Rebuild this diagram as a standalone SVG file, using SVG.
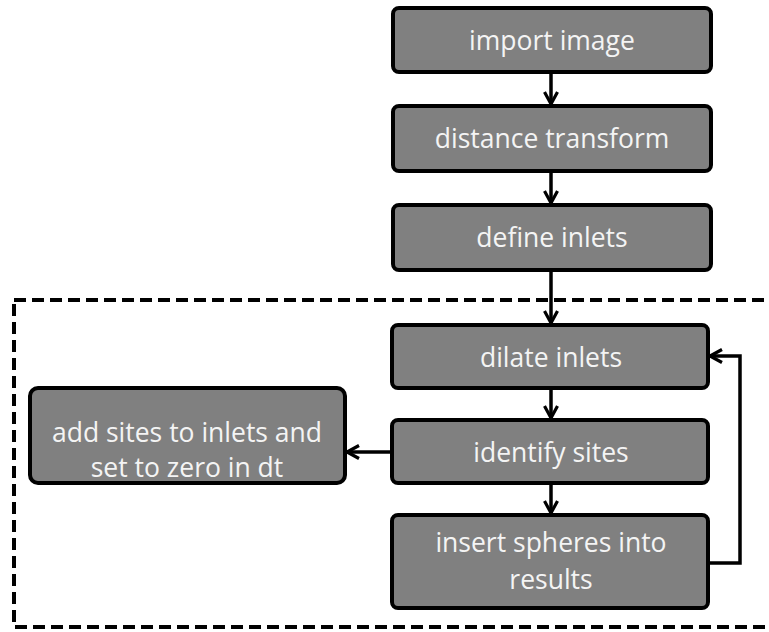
<svg xmlns="http://www.w3.org/2000/svg" width="769" height="632" viewBox="0 0 769 632">
<style>
.box{fill:#808080;stroke:#000;stroke-width:4}
.t{font-family:"Open Sans","Liberation Sans",sans-serif;font-size:26.5px;fill:#f4f4f4;text-anchor:middle}
.c{fill:none;stroke:#000;stroke-width:3.5}
</style>
<defs>
<marker id="ah" viewBox="0 0 16 16" refX="14" refY="8" markerWidth="16" markerHeight="16" markerUnits="userSpaceOnUse" orient="auto">
<path d="M2,1.5 L14,8 L2,14.5" fill="none" stroke="#000" stroke-width="3.2"/>
</marker>
</defs>
<rect x="14" y="300" width="770" height="327" fill="none" stroke="#000" stroke-width="4" stroke-dasharray="12,6"/>
<g id="n1"><rect class="box" x="393" y="8" width="318" height="64" rx="6"/><text class="t" x="552" y="50">import image</text></g>
<g id="n2"><rect class="box" x="393" y="106" width="318" height="65" rx="6"/><text class="t" x="552" y="148">distance transform</text></g>
<g id="n3"><rect class="box" x="393" y="205" width="318" height="65" rx="6"/><text class="t" x="552" y="247">define inlets</text></g>
<g id="n4"><rect class="box" x="392" y="325" width="316" height="63" rx="6"/><text class="t" x="551" y="367">dilate inlets</text></g>
<g id="n5"><rect class="box" x="392" y="420" width="316" height="63" rx="6"/><text class="t" x="551" y="462">identify sites</text></g>
<g id="n6"><rect class="box" x="392" y="515" width="316" height="93" rx="6"/><text class="t" x="551" y="552">insert spheres into</text><text class="t" x="551" y="589">results</text></g>
<g id="n7"><rect class="box" x="30" y="388" width="315" height="95" rx="8"/><text class="t" x="187" y="442">add sites to inlets and</text><text class="t" x="187" y="477">set to zero in dt</text></g>
<g id="connectors">
<line class="c" x1="551" y1="72" x2="551" y2="104" marker-end="url(#ah)"/>
<line class="c" x1="551" y1="171" x2="551" y2="203" marker-end="url(#ah)"/>
<line class="c" x1="551" y1="270" x2="551" y2="323" marker-end="url(#ah)"/>
<line class="c" x1="551" y1="388" x2="551" y2="418" marker-end="url(#ah)"/>
<line class="c" x1="551" y1="483" x2="551" y2="513" marker-end="url(#ah)"/>
<line class="c" x1="392" y1="452" x2="347" y2="452" marker-end="url(#ah)"/>
<polyline class="c" points="708,563 740,563 740,356 710,356" marker-end="url(#ah)"/>
</g>
</svg>
